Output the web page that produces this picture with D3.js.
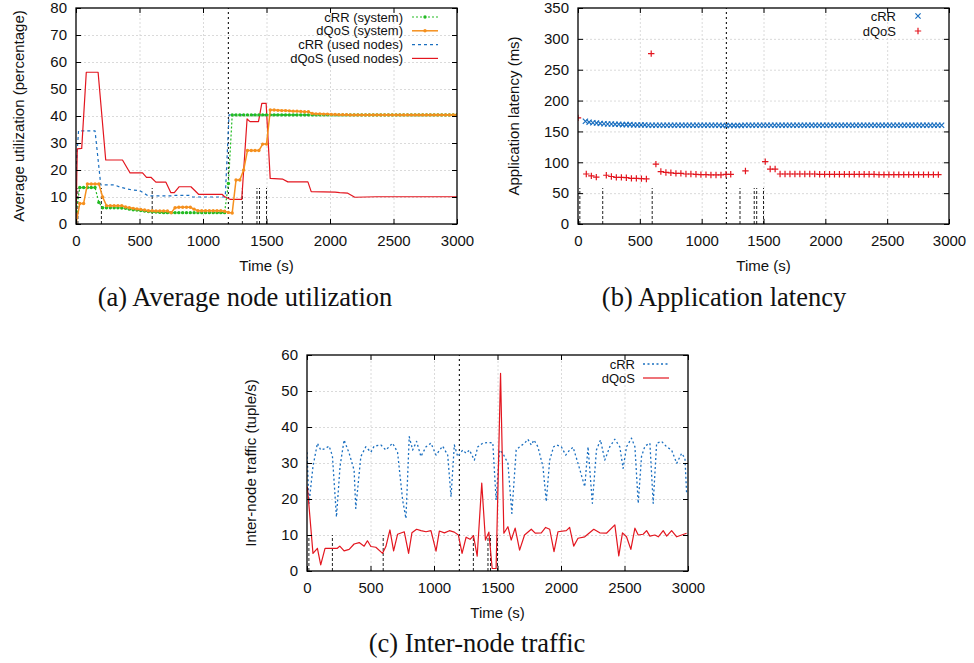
<!DOCTYPE html>
<html>
<head>
<meta charset="utf-8">
<script src="https://cdn.jsdelivr.net/npm/d3@7"></script>
<style>
body { margin: 0; background: #fff; }
svg text { font-family: "Liberation Sans", Arial, Helvetica, sans-serif; fill: #111; }
.caption { font-family: "Liberation Serif", "Times New Roman", serif; font-size: 26.5px; }
</style>
</head>
<body>
<script>
// ---- shared ----
var xTicks = [0, 500, 1000, 1500, 2000, 2500, 3000];
var migrationTime = 1200;                                   // dotted full-height line
var eventTimes = [15, 200, 600, 1310, 1425, 1445, 1500];    // short dashed markers

// ---- (a) average node utilization ----
var utilTicks = [0, 10, 20, 30, 40, 50, 60, 70, 80];
var sysTimes = d3.range(0, 3001, 30); // sampling grid of the "system" series
var crrSystem = [
  4.7, 13.5, 13.5, 13.5, 13.5, 13.5, 8, 6, 6, 6, 6, 6, 5.9, 5.8, 5.5, 5.3, 5.2, 5, 4.8, 4.6,
  4.5, 4.4, 4.3, 4.2, 4.2, 4.2, 4.2, 4.2, 4.2, 4.2, 4.2, 4.2, 4.2, 4.2, 4.2, 4.2, 4.2, 4.2, 4.2, 4.2,
  15, 40.4, 40.4, 40.4, 40.4, 40.4, 40.4, 40.4, 40.4, 40.4, 40.4, 40.4, 40.4, 40.4, 40.4, 40.4, 40.4, 40.4, 40.4, 40.4,
  40.4, 40.4, 40.4, 40.4, 40.4, 40.4, 40.4, 40.4, 40.4, 40.4, 40.4, 40.4, 40.4, 40.4, 40.4, 40.4, 40.4, 40.4, 40.4, 40.4,
  40.4, 40.4, 40.4, 40.4, 40.4, 40.4, 40.4, 40.4, 40.4, 40.4, 40.4, 40.4, 40.4, 40.4, 40.4, 40.4, 40.4, 40.4, 40.4, 40.4, 40.4
];
var dqosSystem = [
  0, 7.6, 7.6, 14.8, 14.8, 14.8, 14.8, 10, 6.8, 6.8, 6.8, 6.8, 6.8, 6.3, 6, 5.8, 5.6, 5.4, 5.2, 4.9,
  4.9, 4.8, 4.8, 4.8, 4.8, 4.2, 6, 6.2, 6.2, 6.2, 6.2, 5.5, 4.9, 4.9, 4.9, 4.9, 4.9, 4.9, 4.9, 4.7,
  4.3, 4.1, 16.3, 16.3, 20, 27.2, 27.2, 27.2, 27.2, 29.6, 29.6, 42.2, 42.2, 42.1, 42, 42, 41.9, 41.8, 41.8, 41.7,
  41.6, 41.6, 40.9, 40.8, 40.8, 40.7, 40.7, 40.6, 40.6, 40.5, 40.5, 40.5, 40.4, 40.4, 40.4, 40.4, 40.4, 40.4, 40.4, 40.4,
  40.4, 40.4, 40.4, 40.4, 40.4, 40.4, 40.4, 40.4, 40.4, 40.4, 40.4, 40.4, 40.4, 40.4, 40.4, 40.4, 40.4, 40.4, 40.4, 40.4, 40.4
];
var crrUsed = [
  [0, 20], [20, 34.5], [150, 34.5], [195, 14.5], [300, 14.5], [350, 13.6], [440, 12.6], [500, 12.4],
  [570, 10.4], [760, 10.4], [780, 10.6], [890, 10.6], [920, 10], [1175, 10], [1190, 25], [1205, 40.4], [3000, 40.5]
];
var dqosUsed = [
  [0, 0], [10, 27.8], [45, 28], [81, 56.2], [174, 56.2], [234, 23.7], [366, 23.7], [426, 18.9], [524, 18.9],
  [555, 17.3], [590, 17.3], [629, 15.5], [708, 15.5], [747, 11.6], [774, 11.6], [813, 13.8], [905, 13.8],
  [965, 11], [1150, 11], [1168, 10.2], [1216, 9.1], [1305, 9.1], [1347, 38.9], [1370, 37.9], [1437, 37.9],
  [1463, 44.7], [1497, 44.7], [1529, 16.9], [1629, 16.6], [1668, 15.6], [1826, 15.6], [1852, 12],
  [2040, 11.8], [2076, 11.6], [2140, 11.4], [2195, 9.9], [2366, 10.1], [3000, 10.1]
];

// ---- (b) application latency ----
var latTicks = [0, 50, 100, 150, 200, 250, 300, 350];
var latCrrTimes = d3.range(60, 2941, 30);
var latCrr = [
  166.5, 165, 164, 163.5, 163, 162.5, 162, 162, 161.5, 161.5, 161, 161, 161, 160.5, 160.5, 160.5, 160.5,
  160, 160, 160, 160, 160, 160, 160, 160, 160, 160, 160, 160, 160, 160, 160, 160, 160, 160, 160, 160,
  159.7, 159.7, 159.7, 159.7, 159.7, 159.7, 160, 160, 160, 160, 160, 160, 160, 160, 160, 160, 160, 160,
  160, 160, 160, 160, 160, 160, 160, 160, 160, 160, 160, 160, 160, 160, 160, 160, 160, 160, 160, 160,
  160, 160, 160, 160, 160, 160, 160, 160, 160, 160, 160, 160, 160, 160, 160, 160, 160, 160, 160, 160, 160, 160
];
var latDqos = [
  [0, 172], [67, 81], [108, 78], [148, 76], [229, 79], [270, 77], [310, 75.5], [351, 75.5], [391, 75],
  [432, 74], [472, 74], [513, 73.5], [553, 73], [592, 276], [630, 97], [670, 85], [711, 83.5], [751, 83],
  [792, 82], [832, 82], [873, 81], [913, 81], [954, 80.5], [994, 80], [1035, 80], [1075, 79.5], [1116, 79.5],
  [1156, 79.5], [1197, 80.5], [1235, 80.5], [1354, 86], [1514, 101], [1554, 89], [1594, 89], [1634, 81],
  [1674, 81], [1714, 81], [1754, 81], [1794, 81], [1834, 81], [1874, 81], [1914, 81], [1954, 80.5], [1994, 80.5],
  [2034, 80.5], [2074, 80.5], [2114, 80.5], [2154, 80.5], [2194, 80.5], [2234, 80.5], [2274, 80.5], [2314, 80.5],
  [2354, 80.5], [2394, 80.5], [2434, 80], [2474, 80], [2514, 80], [2554, 80], [2594, 80], [2634, 80],
  [2674, 80], [2714, 80], [2754, 80], [2794, 80], [2834, 80], [2874, 80], [2914, 80]
];

// ---- (c) inter-node traffic ----
var trafficTicks = [0, 10, 20, 30, 40, 50, 60];
var trafficCrr = [
  [0, 33], [16, 18.8], [47, 29], [82, 35.5], [108, 33.6], [142, 34], [174, 34.7], [200, 32], [232, 15],
  [260, 29], [292, 36.4], [332, 32.7], [371, 28], [384, 17.4], [424, 31.8], [463, 34.5], [503, 33], [529, 34.7],
  [582, 35], [621, 33.6], [674, 35.5], [713, 33], [753, 19.7], [779, 14.6], [805, 37.3], [832, 33.6], [863, 36],
  [897, 31.8], [937, 34.5], [976, 35.5], [1016, 32.2], [1068, 34.7], [1108, 32.2], [1134, 20.6], [1160, 35],
  [1187, 31.8], [1226, 33.6], [1253, 32.7], [1279, 33.6], [1318, 30.8], [1345, 34.5], [1384, 35.5], [1420, 35.7],
  [1463, 35.6], [1489, 19.7], [1516, 33.6], [1542, 32.7], [1582, 29.9], [1613, 16], [1647, 33.6], [1674, 34.5],
  [1713, 35.5], [1739, 36.6], [1766, 35], [1787, 36.4], [1818, 34.5], [1858, 29], [1884, 19.3], [1911, 30.8],
  [1942, 34.5], [1968, 35], [2003, 34.5], [2037, 32.2], [2068, 33.6], [2095, 34.4], [2134, 29.9], [2187, 23.4],
  [2213, 34.5], [2247, 18.8], [2279, 33.6], [2311, 36.4], [2345, 30.8], [2384, 34.5], [2424, 36.6], [2463, 34.5],
  [2489, 28.5], [2516, 34.5], [2555, 36.9], [2582, 34.5], [2608, 18.8], [2634, 31.8], [2661, 34.7], [2700, 35.5],
  [2726, 18.8], [2753, 35.5], [2792, 36], [2832, 34.5], [2871, 33.6], [2911, 29.9], [2950, 32.7], [2976, 31.3],
  [2989, 21.6]
];
var trafficDqos = [
  [3, 23.4], [47, 4.9], [82, 6.3], [108, 1.7], [142, 6.3], [200, 6.3], [239, 6.3], [258, 6.9], [292, 5.6],
  [332, 6], [371, 7.5], [411, 7.9], [450, 6.9], [476, 8.4], [503, 6.8], [542, 6.6], [595, 4.9], [621, 6.8],
  [653, 11.4], [682, 5.6], [713, 10.2], [766, 10.9], [800, 4.9], [826, 10.6], [863, 11.6], [897, 11.2],
  [937, 10.9], [976, 11.2], [1016, 5.5], [1042, 11.1], [1082, 10.6], [1121, 11.2], [1160, 10.8], [1192, 10],
  [1221, 4.9], [1253, 9.4], [1284, 8.8], [1311, 9.8], [1340, 4.1], [1376, 24.4], [1405, 8.6], [1432, 10.8],
  [1458, 0.7], [1489, 0.7], [1524, 54.9], [1550, 10.5], [1582, 12.3], [1608, 8.6], [1639, 11.9], [1674, 5.8],
  [1713, 10], [1766, 11.6], [1797, 10.5], [1845, 10.6], [1879, 12.1], [1911, 11.6], [1945, 5.4], [1976, 10.9],
  [2042, 11.2], [2068, 12.1], [2100, 6.9], [2134, 9.1], [2187, 9.5], [2258, 11.6], [2305, 10.6], [2358, 10.5],
  [2424, 12.8], [2455, 4.2], [2484, 10.6], [2516, 9.5], [2550, 6], [2582, 11.9], [2608, 10], [2647, 10.2],
  [2674, 11.2], [2700, 9.7], [2739, 10], [2766, 9.5], [2805, 11.2], [2832, 9.7], [2871, 11.2], [2911, 9.5],
  [2950, 10], [2989, 10.5]
];

var GREEN = "#22bb22", ORANGE = "#f5901e", BLUE = "#1a6fc0", RED = "#e3161f";
var LEGEND_FONT = 13;

var svg = d3.select("body").append("svg").attr("width", 974).attr("height", 663);

// draws frame, grid, ticks, labels and the event markers of one panel
function panel(p) {
  var g = svg.append("g");
  var x = d3.scaleLinear().domain([0, 3000]).range([p.left, p.right]);
  var y = d3.scaleLinear().domain([0, p.yTicks[p.yTicks.length - 1]]).range([p.bottom, p.top]);
  var h = p.bottom - p.top, w = p.right - p.left;

  // grid
  var gx = g.append("g").attr("transform", "translate(0," + p.bottom + ")")
    .call(d3.axisBottom(x).tickValues(xTicks.slice(1, -1)).tickSize(-h).tickFormat(""));
  var gy = g.append("g").attr("transform", "translate(" + p.left + ",0)")
    .call(d3.axisLeft(y).tickValues(p.yTicks.slice(1, -1)).tickSize(-w).tickFormat(""));
  [gx, gy].forEach(function (a) {
    a.select(".domain").remove();
    a.selectAll("line").attr("stroke", "#d0d0d0").attr("stroke-width", 0.8).attr("stroke-dasharray", "2,2");
  });

  // event markers
  g.selectAll(".ev").data(eventTimes).enter().append("line")
    .attr("x1", function (d) { return x(d); }).attr("x2", function (d) { return x(d); })
    .attr("y1", y(0)).attr("y2", y(y.domain()[1] / 6))
    .attr("stroke", "#222").attr("stroke-width", 1).attr("stroke-dasharray", "3,2");
  g.append("line")
    .attr("x1", x(migrationTime)).attr("x2", x(migrationTime))
    .attr("y1", y(0)).attr("y2", p.top)
    .attr("stroke", "#222").attr("stroke-width", 1.2).attr("stroke-dasharray", "2,3");

  var clipId = "clip" + p.id;
  svg.append("clipPath").attr("id", clipId).append("rect")
    .attr("x", p.left).attr("y", p.top).attr("width", w).attr("height", h);
  var plot = svg.append("g").attr("clip-path", "url(#" + clipId + ")");

  // axes with inward ticks on all four sides
  var axes = svg.append("g");
  var ab = axes.append("g").attr("transform", "translate(0," + p.bottom + ")")
    .call(d3.axisBottom(x).tickValues(xTicks).tickSize(-5).tickPadding(11).tickFormat(d3.format("d")));
  var at = axes.append("g").attr("transform", "translate(0," + p.top + ")")
    .call(d3.axisTop(x).tickValues(xTicks).tickSize(-5).tickFormat(""));
  var al = axes.append("g").attr("transform", "translate(" + p.left + ",0)")
    .call(d3.axisLeft(y).tickValues(p.yTicks).tickSize(-5).tickPadding(9).tickFormat(d3.format("d")));
  var ar = axes.append("g").attr("transform", "translate(" + p.right + ",0)")
    .call(d3.axisRight(y).tickValues(p.yTicks).tickSize(-5).tickFormat(""));
  [ab, at, al, ar].forEach(function (a) {
    a.select(".domain").remove();
    a.selectAll("line").attr("stroke", "#000").attr("stroke-width", 1);
    a.selectAll("text").attr("font-size", 15).attr("font-family", "Liberation Sans, Arial, sans-serif").attr("fill", "#111");
  });
  axes.append("rect").attr("x", p.left).attr("y", p.top).attr("width", w).attr("height", h)
    .attr("fill", "none").attr("stroke", "#000").attr("stroke-width", 1.3);

  // titles
  axes.append("text").attr("x", (p.left + p.right) / 2).attr("y", p.bottom + 47)
    .attr("text-anchor", "middle").attr("font-size", 15).text("Time (s)");
  axes.append("text")
    .attr("transform", "translate(" + p.yLabelX + "," + (p.top + p.bottom) / 2 + ") rotate(-90)")
    .attr("text-anchor", "middle").attr("dy", "0.35em").attr("font-size", 15).text(p.yLabel);
  svg.append("text").attr("class", "caption").attr("x", p.capX).attr("y", p.capY)
    .attr("text-anchor", "middle").text(p.caption);

  return { x: x, y: y, plot: plot, axes: axes };
}

function drawLine(pn, data, color, width, dash) {
  var line = d3.line().x(function (d) { return pn.x(d[0]); }).y(function (d) { return pn.y(d[1]); });
  pn.plot.append("path").datum(data).attr("d", line)
    .attr("fill", "none").attr("stroke", color).attr("stroke-width", width)
    .attr("stroke-dasharray", dash || null).attr("stroke-linejoin", "round");
}

function drawDots(pn, data, color) {
  pn.plot.selectAll(null).data(data).enter().append("circle")
    .attr("cx", function (d) { return pn.x(d[0]); }).attr("cy", function (d) { return pn.y(d[1]); })
    .attr("r", 1.7).attr("fill", color);
}

function legendRow(g, tx, ty, label) {
  g.append("text").attr("x", tx).attr("y", ty).attr("dy", "0.35em")
    .attr("text-anchor", "end").attr("font-size", LEGEND_FONT).text(label);
}

// ---------- (a) ----------
var pa = panel({ id: "a", left: 76, right: 457, top: 8, bottom: 224, yTicks: utilTicks,
  yLabel: "Average utilization (percentage)", yLabelX: 19, caption: "(a) Average node utilization", capX: 245, capY: 306 });

var crrSysPts = sysTimes.map(function (t, i) { return [t, crrSystem[i]]; });
var dqosSysPts = sysTimes.map(function (t, i) { return [t, dqosSystem[i]]; });
drawLine(pa, crrUsed, BLUE, 1.2, "3,3");
drawLine(pa, dqosUsed, RED, 1.2);
drawLine(pa, crrSysPts, GREEN, 1.2, "2,2");
drawDots(pa, crrSysPts, GREEN);
drawLine(pa, dqosSysPts, ORANGE, 1.5);
drawDots(pa, dqosSysPts, ORANGE);

var legA = [
  { label: "cRR (system)", color: GREEN, dash: "2,2", dot: true, w: 1.2 },
  { label: "dQoS (system)", color: ORANGE, dash: null, dot: true, w: 1.5 },
  { label: "cRR (used nodes)", color: BLUE, dash: "3,3", dot: false, w: 1.2 },
  { label: "dQoS (used nodes)", color: RED, dash: null, dot: false, w: 1.2 }
];
legA.forEach(function (d, i) {
  var ly = 17 + i * 13.8;
  legendRow(pa.axes, 403, ly, d.label);
  pa.axes.append("line").attr("x1", 412).attr("x2", 438).attr("y1", ly).attr("y2", ly)
    .attr("stroke", d.color).attr("stroke-width", d.w).attr("stroke-dasharray", d.dash);
  if (d.dot) pa.axes.append("circle").attr("cx", 425).attr("cy", ly).attr("r", 1.7).attr("fill", d.color);
});

// ---------- (b) ----------
var pb = panel({ id: "b", left: 578, right: 949, top: 8, bottom: 224, yTicks: latTicks,
  yLabel: "Application latency (ms)", yLabelX: 514, caption: "(b) Application latency", capX: 724, capY: 306 });

var crossPath = "M-2.6,-2.6L2.6,2.6M-2.6,2.6L2.6,-2.6";
var plusPath = "M-3.2,0H3.2M0,-3.2V3.2";
var latCrrPts = latCrrTimes.map(function (t, i) { return [t, latCrr[i]]; });
pb.plot.selectAll(null).data(latCrrPts).enter().append("path")
  .attr("transform", function (d) { return "translate(" + pb.x(d[0]) + "," + pb.y(d[1]) + ")"; })
  .attr("d", crossPath).attr("stroke", BLUE).attr("stroke-width", 1.2).attr("fill", "none");
pb.plot.selectAll(null).data(latDqos).enter().append("path")
  .attr("transform", function (d) { return "translate(" + pb.x(d[0]) + "," + pb.y(d[1]) + ")"; })
  .attr("d", plusPath).attr("stroke", RED).attr("stroke-width", 1.2).attr("fill", "none");

legendRow(pb.axes, 896, 16, "cRR");
legendRow(pb.axes, 896, 31, "dQoS");
pb.axes.append("path").attr("transform", "translate(918,16)").attr("d", crossPath)
  .attr("stroke", BLUE).attr("stroke-width", 1.2);
pb.axes.append("path").attr("transform", "translate(918,31)").attr("d", plusPath)
  .attr("stroke", RED).attr("stroke-width", 1.2);

// ---------- (c) ----------
var pc = panel({ id: "c", left: 307, right: 688, top: 355, bottom: 571, yTicks: trafficTicks,
  yLabel: "Inter-node traffic (tuple/s)", yLabelX: 251, caption: "(c) Inter-node traffic", capX: 477, capY: 652 });

drawLine(pc, trafficCrr, BLUE, 1.3, "2,2.5");
drawLine(pc, trafficDqos, RED, 1.2);

legendRow(pc.axes, 635, 364, "cRR");
legendRow(pc.axes, 635, 378, "dQoS");
pc.axes.append("line").attr("x1", 643).attr("x2", 669).attr("y1", 364).attr("y2", 364)
  .attr("stroke", BLUE).attr("stroke-width", 1.3).attr("stroke-dasharray", "2,2.5");
pc.axes.append("line").attr("x1", 643).attr("x2", 669).attr("y1", 378).attr("y2", 378)
  .attr("stroke", RED).attr("stroke-width", 1.2);
</script>
</body>
</html>
